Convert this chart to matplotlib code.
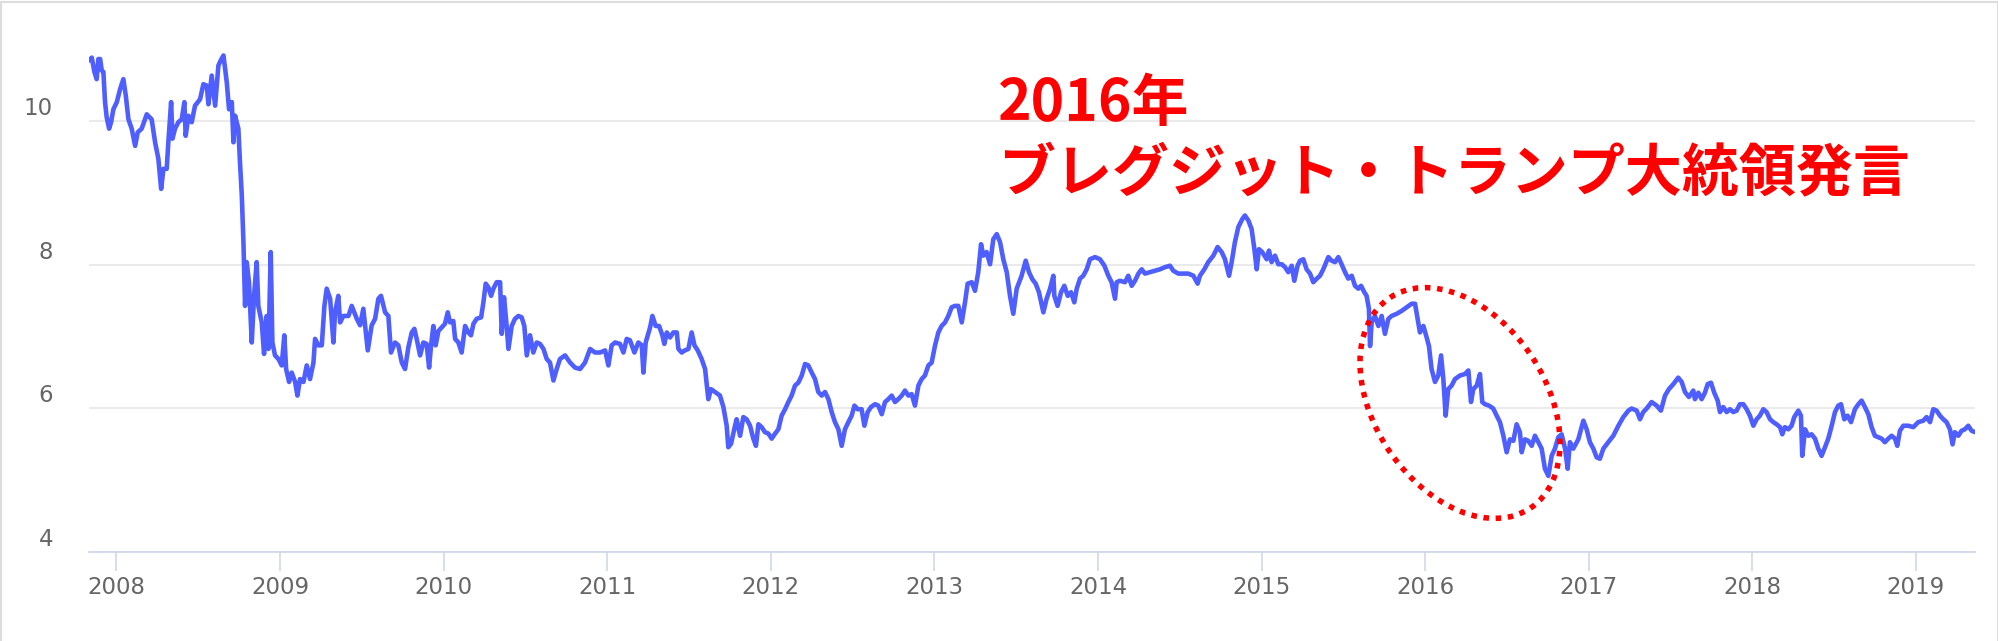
import matplotlib
matplotlib.use("Agg")
import matplotlib.pyplot as plt
from matplotlib.patches import Ellipse
from matplotlib.transforms import ScaledTranslation

# time axis in decimal years
t = [
    2007.832, 2007.849, 2007.865, 2007.879, 2007.889, 2007.900, 2007.910, 2007.920, 2007.930, 2007.940,
    2007.955, 2007.967, 2007.981, 2008.002, 2008.022, 2008.042, 2008.057, 2008.073, 2008.093, 2008.114,
    2008.130, 2008.154, 2008.185, 2008.215, 2008.236, 2008.256, 2008.273, 2008.287, 2008.307, 2008.317,
    2008.334, 2008.342, 2008.358, 2008.378, 2008.399, 2008.415, 2008.423, 2008.440, 2008.460, 2008.480,
    2008.511, 2008.531, 2008.552, 2008.562, 2008.582, 2008.603, 2008.623, 2008.637, 2008.654, 2008.674,
    2008.688, 2008.705, 2008.715, 2008.725, 2008.745, 2008.755, 2008.766, 2008.776, 2008.786, 2008.796,
    2008.810, 2008.827, 2008.841, 2008.857, 2008.867, 2008.888, 2008.902, 2008.918, 2008.929, 2008.943,
    2008.953, 2008.969, 2008.990, 2009.010, 2009.026, 2009.037, 2009.055, 2009.071, 2009.092, 2009.106,
    2009.122, 2009.143, 2009.163, 2009.183, 2009.204, 2009.214, 2009.234, 2009.255, 2009.271, 2009.285,
    2009.306, 2009.326, 2009.336, 2009.356, 2009.367, 2009.387, 2009.418, 2009.438, 2009.469, 2009.489,
    2009.509, 2009.536, 2009.560, 2009.581, 2009.601, 2009.617, 2009.642, 2009.662, 2009.678, 2009.703,
    2009.723, 2009.744, 2009.764, 2009.784, 2009.805, 2009.821, 2009.835, 2009.856, 2009.876, 2009.896,
    2009.911, 2009.923, 2009.937, 2009.951, 2009.968, 2009.988, 2010.008, 2010.025, 2010.039, 2010.059,
    2010.070, 2010.090, 2010.110, 2010.131, 2010.151, 2010.167, 2010.182, 2010.202, 2010.229, 2010.243,
    2010.257, 2010.273, 2010.290, 2010.304, 2010.324, 2010.345, 2010.355, 2010.369, 2010.385, 2010.396,
    2010.416, 2010.436, 2010.457, 2010.477, 2010.493, 2010.508, 2010.528, 2010.548, 2010.569, 2010.589,
    2010.610, 2010.630, 2010.650, 2010.671, 2010.691, 2010.711, 2010.742, 2010.773, 2010.803, 2010.834,
    2010.864, 2010.895, 2010.925, 2010.956, 2010.987, 2011.007, 2011.027, 2011.048, 2011.078, 2011.099,
    2011.119, 2011.139, 2011.166, 2011.190, 2011.211, 2011.221, 2011.235, 2011.262, 2011.276, 2011.296,
    2011.317, 2011.337, 2011.349, 2011.364, 2011.384, 2011.404, 2011.425, 2011.435, 2011.455, 2011.475,
    2011.496, 2011.516, 2011.533, 2011.553, 2011.577, 2011.598, 2011.618, 2011.634, 2011.659, 2011.689,
    2011.710, 2011.730, 2011.740, 2011.757, 2011.781, 2011.791, 2011.812, 2011.832, 2011.852, 2011.873,
    2011.893, 2011.909, 2011.924, 2011.944, 2011.964, 2011.985, 2012.005, 2012.026, 2012.046, 2012.066,
    2012.087, 2012.107, 2012.127, 2012.148, 2012.168, 2012.189, 2012.209, 2012.229, 2012.250, 2012.270,
    2012.290, 2012.311, 2012.331, 2012.352, 2012.372, 2012.392, 2012.413, 2012.433, 2012.453, 2012.474,
    2012.494, 2012.511, 2012.531, 2012.555, 2012.572, 2012.592, 2012.612, 2012.637, 2012.657, 2012.678,
    2012.698, 2012.718, 2012.739, 2012.759, 2012.779, 2012.800, 2012.820, 2012.841, 2012.861, 2012.881,
    2012.902, 2012.922, 2012.942, 2012.963, 2012.983, 2013.004, 2013.024, 2013.044, 2013.065, 2013.085,
    2013.105, 2013.126, 2013.146, 2013.167, 2013.187, 2013.203, 2013.228, 2013.248, 2013.268, 2013.285,
    2013.299, 2013.319, 2013.340, 2013.360, 2013.381, 2013.401, 2013.421, 2013.442, 2013.462, 2013.482,
    2013.503, 2013.533, 2013.558, 2013.578, 2013.599, 2013.619, 2013.639, 2013.666, 2013.686, 2013.707,
    2013.727, 2013.733, 2013.753, 2013.774, 2013.794, 2013.815, 2013.835, 2013.855, 2013.870, 2013.890,
    2013.910, 2013.931, 2013.951, 2013.982, 2014.012, 2014.039, 2014.063, 2014.083, 2014.104, 2014.114,
    2014.134, 2014.165, 2014.185, 2014.206, 2014.226, 2014.247, 2014.267, 2014.287, 2014.318, 2014.348,
    2014.379, 2014.410, 2014.440, 2014.460, 2014.491, 2014.522, 2014.552, 2014.583, 2014.609, 2014.623,
    2014.650, 2014.674, 2014.705, 2014.731, 2014.756, 2014.776, 2014.801, 2014.817, 2014.837, 2014.858,
    2014.882, 2014.898, 2014.919, 2014.939, 2014.956, 2014.970, 2014.984, 2015.004, 2015.031, 2015.045,
    2015.061, 2015.082, 2015.102, 2015.123, 2015.143, 2015.163, 2015.184, 2015.200, 2015.220, 2015.235,
    2015.255, 2015.275, 2015.296, 2015.316, 2015.337, 2015.357, 2015.377, 2015.408, 2015.428, 2015.449,
    2015.469, 2015.489, 2015.510, 2015.530, 2015.551, 2015.571, 2015.591, 2015.608, 2015.628, 2015.642,
    2015.656, 2015.663, 2015.673, 2015.693, 2015.714, 2015.734, 2015.754, 2015.775, 2015.795, 2015.826,
    2015.856, 2015.887, 2015.917, 2015.938, 2015.954, 2015.968, 2015.989, 2016.009, 2016.023, 2016.039,
    2016.060, 2016.080, 2016.097, 2016.111, 2016.125, 2016.141, 2016.162, 2016.182, 2016.213, 2016.243,
    2016.264, 2016.280, 2016.294, 2016.315, 2016.335, 2016.349, 2016.365, 2016.390, 2016.416, 2016.437,
    2016.457, 2016.478, 2016.498, 2016.518, 2016.539, 2016.559, 2016.579, 2016.590, 2016.610, 2016.630,
    2016.651, 2016.671, 2016.692, 2016.712, 2016.732, 2016.753, 2016.773, 2016.793, 2016.814, 2016.834,
    2016.855, 2016.871, 2016.885, 2016.905, 2016.936, 2016.967, 2016.987, 2017.007, 2017.028, 2017.048,
    2017.068, 2017.089, 2017.119, 2017.150, 2017.181, 2017.211, 2017.242, 2017.262, 2017.293, 2017.313,
    2017.333, 2017.354, 2017.384, 2017.415, 2017.441, 2017.466, 2017.490, 2017.517, 2017.547, 2017.568,
    2017.588, 2017.612, 2017.639, 2017.649, 2017.670, 2017.690, 2017.710, 2017.727, 2017.747, 2017.767,
    2017.788, 2017.802, 2017.822, 2017.843, 2017.863, 2017.883, 2017.904, 2017.924, 2017.945, 2017.965,
    2017.985, 2018.006, 2018.026, 2018.046, 2018.067, 2018.087, 2018.108, 2018.128, 2018.148, 2018.169,
    2018.183, 2018.199, 2018.220, 2018.240, 2018.256, 2018.281, 2018.297, 2018.305, 2018.322, 2018.342,
    2018.362, 2018.383, 2018.403, 2018.423, 2018.444, 2018.464, 2018.485, 2018.505, 2018.525, 2018.542,
    2018.562, 2018.582, 2018.603, 2018.627, 2018.648, 2018.668, 2018.688, 2018.709, 2018.729, 2018.749,
    2018.770, 2018.790, 2018.810, 2018.831, 2018.851, 2018.872, 2018.886, 2018.902, 2018.923, 2018.953,
    2018.984, 2019.014, 2019.045, 2019.065, 2019.086, 2019.106, 2019.126, 2019.147, 2019.167, 2019.187,
    2019.208, 2019.224, 2019.238, 2019.259, 2019.279, 2019.299, 2019.320, 2019.340, 2019.361,
]

rate = [
    10.85, 10.89, 10.69, 10.59, 10.87, 10.87, 10.71, 10.69, 10.27, 10.06,
    9.90, 9.99, 10.17, 10.27, 10.45, 10.59, 10.36, 10.03, 9.90, 9.66,
    9.85, 9.90, 10.10, 10.03, 9.71, 9.48, 9.06, 9.34, 9.34, 9.71,
    10.27, 9.76, 9.90, 9.99, 10.03, 10.27, 9.80, 10.08, 9.99, 10.22,
    10.31, 10.52, 10.50, 10.24, 10.64, 10.22, 10.78, 10.85, 10.92, 10.55,
    10.17, 10.27, 9.71, 10.08, 9.90, 9.43, 8.97, 8.32, 7.43, 8.04,
    7.76, 6.92, 7.57, 8.04, 7.43, 7.20, 6.76, 7.29, 6.83, 8.18,
    6.92, 6.74, 6.69, 6.60, 7.02, 6.55, 6.37, 6.50, 6.37, 6.18,
    6.41, 6.37, 6.60, 6.41, 6.64, 6.97, 6.88, 6.88, 7.43, 7.67,
    7.53, 6.92, 7.34, 7.57, 7.20, 7.29, 7.29, 7.43, 7.25, 7.16,
    7.39, 6.81, 7.16, 7.25, 7.53, 7.57, 7.34, 7.29, 6.78, 6.92,
    6.88, 6.64, 6.55, 6.85, 7.06, 7.11, 6.97, 6.74, 6.92, 6.90,
    6.57, 6.88, 7.15, 6.88, 7.08, 7.13, 7.18, 7.34, 7.20, 7.22,
    6.97, 6.92, 6.78, 7.15, 7.06, 7.02, 7.18, 7.25, 7.27, 7.48,
    7.74, 7.69, 7.57, 7.67, 7.76, 7.76, 7.04, 7.55, 7.15, 6.83,
    7.15, 7.25, 7.29, 7.27, 7.15, 6.74, 7.02, 6.78, 6.92, 6.90,
    6.83, 6.69, 6.64, 6.39, 6.55, 6.69, 6.74, 6.64, 6.57, 6.55,
    6.64, 6.83, 6.78, 6.78, 6.81, 6.60, 6.88, 6.92, 6.90, 6.78,
    6.97, 6.95, 6.78, 6.92, 6.88, 6.50, 6.92, 7.13, 7.29, 7.15,
    7.15, 7.02, 6.90, 7.06, 6.99, 7.06, 7.06, 6.83, 6.78, 6.81,
    6.83, 7.06, 6.88, 6.81, 6.69, 6.55, 6.13, 6.27, 6.23, 6.18,
    6.02, 5.76, 5.46, 5.51, 5.76, 5.85, 5.62, 5.88, 5.85, 5.76,
    5.58, 5.48, 5.78, 5.74, 5.67, 5.65, 5.58, 5.65, 5.71, 5.90,
    5.99, 6.09, 6.18, 6.32, 6.36, 6.46, 6.62, 6.60, 6.50, 6.41,
    6.23, 6.18, 6.23, 6.13, 5.95, 5.81, 5.71, 5.48, 5.71, 5.81,
    5.90, 6.04, 5.99, 5.99, 5.76, 5.95, 6.02, 6.06, 6.04, 5.92,
    6.09, 6.13, 6.18, 6.09, 6.13, 6.18, 6.25, 6.18, 6.20, 6.04,
    6.32, 6.41, 6.46, 6.60, 6.64, 6.88, 7.06, 7.15, 7.20, 7.29,
    7.41, 7.43, 7.43, 7.20, 7.48, 7.74, 7.76, 7.64, 7.90, 8.29,
    8.13, 8.18, 8.01, 8.36, 8.43, 8.32, 8.08, 7.90, 7.57, 7.32,
    7.67, 7.85, 8.06, 7.90, 7.80, 7.74, 7.62, 7.34, 7.53, 7.67,
    7.85, 7.57, 7.43, 7.62, 7.71, 7.57, 7.62, 7.48, 7.67, 7.81,
    7.85, 7.94, 8.08, 8.11, 8.08, 7.99, 7.85, 7.76, 7.53, 7.76,
    7.78, 7.76, 7.85, 7.71, 7.78, 7.88, 7.94, 7.88, 7.90, 7.92,
    7.94, 7.97, 7.99, 7.92, 7.88, 7.88, 7.88, 7.85, 7.74, 7.85,
    7.94, 8.04, 8.13, 8.25, 8.18, 8.08, 7.85, 8.04, 8.32, 8.53,
    8.64, 8.69, 8.62, 8.50, 8.22, 7.94, 8.22, 8.18, 8.08, 8.20,
    8.04, 8.13, 8.01, 8.01, 7.97, 7.90, 7.99, 7.78, 7.99, 8.06,
    8.08, 7.94, 7.88, 7.76, 7.81, 7.85, 7.94, 8.11, 8.06, 8.04,
    8.11, 8.01, 7.90, 7.81, 7.85, 7.71, 7.67, 7.71, 7.62, 7.57,
    7.39, 6.87, 7.20, 7.29, 7.15, 7.29, 7.04, 7.25, 7.29, 7.32,
    7.36, 7.41, 7.46, 7.46, 7.25, 7.06, 7.15, 6.99, 6.87, 6.55,
    6.37, 6.46, 6.74, 6.41, 5.90, 6.27, 6.32, 6.41, 6.46, 6.48,
    6.53, 6.09, 6.27, 6.32, 6.48, 6.09, 6.06, 6.04, 6.00, 5.90,
    5.81, 5.62, 5.39, 5.57, 5.55, 5.78, 5.67, 5.39, 5.57, 5.55,
    5.48, 5.62, 5.53, 5.44, 5.16, 5.06, 5.34, 5.44, 5.60, 5.64,
    5.44, 5.16, 5.53, 5.44, 5.57, 5.83, 5.71, 5.53, 5.44, 5.32,
    5.30, 5.44, 5.53, 5.62, 5.76, 5.88, 5.97, 6.00, 5.97, 5.85,
    5.95, 6.00, 6.09, 6.04, 5.97, 6.18, 6.27, 6.34, 6.43, 6.37,
    6.23, 6.16, 6.25, 6.13, 6.22, 6.13, 6.22, 6.34, 6.36, 6.22,
    6.11, 5.95, 6.02, 5.95, 5.99, 5.95, 5.97, 6.06, 6.06, 5.99,
    5.90, 5.76, 5.85, 5.90, 5.99, 5.95, 5.85, 5.81, 5.78, 5.74,
    5.64, 5.74, 5.71, 5.76, 5.88, 5.97, 5.90, 5.34, 5.71, 5.62,
    5.64, 5.58, 5.44, 5.34, 5.46, 5.58, 5.76, 5.95, 6.04, 6.06,
    5.85, 5.90, 5.81, 5.99, 6.06, 6.11, 6.02, 5.92, 5.74, 5.62,
    5.60, 5.58, 5.53, 5.58, 5.62, 5.58, 5.48, 5.69, 5.76, 5.76,
    5.74, 5.81, 5.83, 5.88, 5.81, 5.99, 5.97, 5.90, 5.85, 5.81,
    5.71, 5.50, 5.67, 5.62, 5.69, 5.71, 5.76, 5.69, 5.67,
]
assert len(t) == len(rate), (len(t), len(rate))

years = list(range(2008, 2020))
year_labels = [str(y) for y in years]
y_ticks = [4, 6, 8, 10]
note_line1 = "2016年"
note_line2 = "ブレグジット・トランプ大統領発言"

W, H = 1999, 641
fig = plt.figure(figsize=(W / 100, H / 100), dpi=100)
fig.patch.set_facecolor("white")

# plot area in pixels: x 89..1975, axis line at y=552
ax = fig.add_axes([89 / W, 1 - 552 / H, (1975 - 89) / W, 552.5 / H])
ax.plot(t, rate, color="#4f5fff", linewidth=3.3, solid_joinstyle="round",
        solid_capstyle="round", zorder=3)

ax.set_xlim(t[0], t[-1])
ax.set_ylim(4, 11.7)

for side in ["top", "right", "left"]:
    ax.spines[side].set_visible(False)
ax.spines["bottom"].set_color("#ccd6eb")
ax.spines["bottom"].set_linewidth(1.2)
ax.spines["bottom"].set_zorder(4)

ax.set_axisbelow(True)
ax.yaxis.grid(True, color="#e6e6e6", linewidth=1.2)

ax.set_xticks(years)
ax.set_xticklabels(year_labels)
ax.set_yticks(y_ticks)
ax.set_yticklabels([str(v) for v in y_ticks])

ax.tick_params(axis="x", length=14, width=1.1, color="#ccd6eb", pad=3,
               labelsize=16.5, labelcolor="#666666")
ax.tick_params(axis="y", length=0, pad=26, labelsize=16.5, labelcolor="#666666")

# highcharts puts the y labels a bit above their grid lines
shift = ScaledTranslation(0, 0.15, fig.dpi_scale_trans)
for lab in ax.get_yticklabels():
    lab.set_transform(lab.get_transform() + shift)

# overlay in pixel units for the annotation
ov = fig.add_axes([0, 0, 1, 1], zorder=5)
ov.set_xlim(0, W)
ov.set_ylim(0, H)
ov.axis("off")
ov.patch.set_alpha(0)

ov.add_patch(Ellipse((1460, H - 403), width=171, height=253, angle=33.8,
                     fill=False, edgecolor="#ff0000", linewidth=4,
                     linestyle=(0, (1, 1.2))))

jp = ["Noto Sans CJK JP", "DejaVu Sans"]
ov.text(998, H - 121, note_line1, fontsize=41, fontweight="bold", color="#ff0000",
        family=jp, ha="left", va="baseline")
ov.text(998, H - 191, note_line2, fontsize=41, fontweight="bold", color="#ff0000",
        family=jp, ha="left", va="baseline")

# thin frame of the screenshot
ov.plot([1, 1, W - 1, W - 1], [0, H - 2, H - 2, 0], color="#dddddd", linewidth=1.5)

fig.savefig("out.png", dpi=100)
